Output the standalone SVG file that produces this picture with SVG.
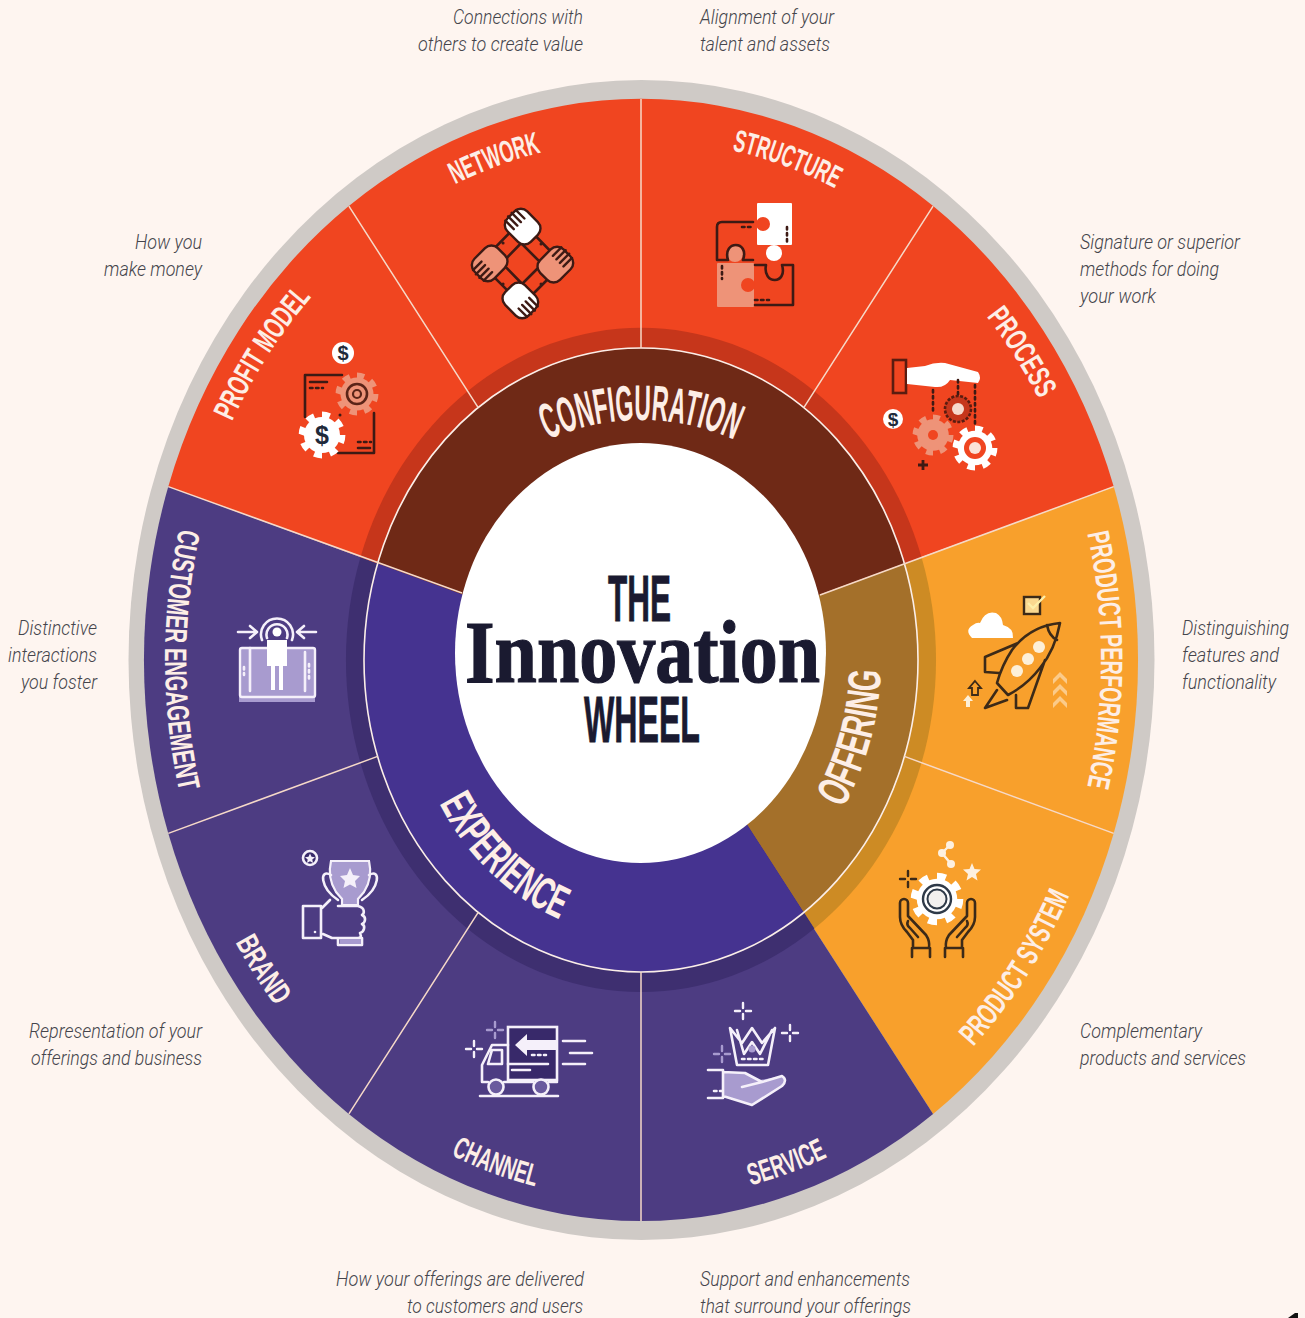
<svg xmlns="http://www.w3.org/2000/svg" width="1305" height="1318" viewBox="0 0 1305 1318">
<style>
.cap{font-family:"Roboto","Liberation Sans",sans-serif;font-style:italic;font-weight:300;font-size:20px;fill:#45454c}
.seg{font-family:"Liberation Sans",sans-serif;font-weight:700;font-size:31px;fill:#fdeee6;text-anchor:middle}
.ring{font-family:"Liberation Sans",sans-serif;font-weight:700;font-size:50px;fill:#fdeee6;text-anchor:middle}
.ttl{font-family:"Liberation Sans",sans-serif;font-weight:700;font-size:65px;fill:#1a1a30;stroke:#1a1a30;stroke-width:.8}
.inn{font-family:"Liberation Serif",serif;font-weight:700;font-size:88px;fill:#1a1a30;stroke:#1a1a30;stroke-width:1.2}
.spoke{stroke:#f6d9c8;stroke-width:1.5;fill:none}
.dk{fill:none;stroke:#3d1a14;stroke-width:2.6;stroke-linecap:round;stroke-linejoin:round}
.or{fill:none;stroke:#3c2a18;stroke-width:2.6;stroke-linecap:round;stroke-linejoin:round}
.wh{fill:none;stroke:#f5f0fa;stroke-width:2.6;stroke-linecap:round;stroke-linejoin:round}
.dot{fill:none;stroke-dasharray:2.5 3.5;stroke-width:2.6}
.dollar{font-family:"Liberation Sans",sans-serif;font-weight:700;text-anchor:middle;fill:#1f2a3a}
</style>
<defs>
<path id="pe1" d="M203.500 499.300A460 520 0 0 1 370.600 239.300"/>
<path id="pe2" d="M370.600 239.300A460 520 0 0 1 641 140"/>
<path id="pe3" d="M641 140A460 520 0 0 1 911.400 239.300"/>
<path id="pe4" d="M911.400 239.300A460 520 0 0 1 1078.500 499.300"/>
<path id="pe5" d="M1078.500 499.300A460 520 0 0 1 1078.500 820.700"/>
<path id="pi1" d="M188.300 493.100A476 540 0 0 0 188.300 826.900"/>
<path id="pi2" d="M188.300 826.900A476 540 0 0 0 361.200 1096.900"/>
<path id="pi3" d="M361.200 1096.900A476 540 0 0 0 641 1200"/>
<path id="pi4" d="M641 1200A476 540 0 0 0 920.800 1096.900"/>
<path id="pi5" d="M920.800 1096.900A476 540 0 0 0 1093.700 826.900"/>
<path id="pr1" d="M437.500 540A235 240 0 0 1 844.500 540"/>
<path id="pr2" d="M782 882.500A240 275 0 0 0 869.300 575"/>
<path id="pr3" d="M416.500 574.700A236 276 0 0 0 779.700 883.300"/>
<g id="gear"><circle r="15" fill="currentColor"/><circle r="16.5" fill="none" stroke="currentColor" stroke-width="6" pathLength="16" stroke-dasharray="1 1"/></g>
<path id="spark" d="M0 -8V-3M0 3V8M-8 0H-3M3 0H8" fill="none" stroke="currentColor" stroke-width="2.4" stroke-linecap="round"/>
<g id="hand"><rect x="-14" y="-17" width="28" height="33" rx="9" stroke="#3d1a14" stroke-width="2.4"/><path d="M-8 -17V-5M-3 -18V-5M2 -18V-5M7 -17V-5" fill="none" stroke="#3d1a14" stroke-width="2.4" stroke-linecap="round"/></g>
</defs>
<rect width="1305" height="1318" fill="#fef5f0"/>
<ellipse id="rim" cx="641.500" cy="660" rx="513" ry="580" fill="#cfcac6"/>

<g id="sectors">
<path d="M641 660L168.300 486.600A497 561 0 0 1 1113.700 486.600Z" fill="#f04520"/>
<path d="M641 660L1113.700 486.600A497 561 0 0 1 933.100 1113.900Z" fill="#f8a02c"/>
<path d="M641 660L933.100 1113.900A497 561 0 0 1 168.300 486.600Z" fill="#4d3c82"/>
</g>
<g id="bands">
<path d="M641 660L360.400 557.400A295 332 0 0 1 921.600 557.400Z" fill="#c6361b"/>
<path d="M641 660L921.600 557.400A295 332 0 0 1 814.400 928.600Z" fill="#cd8b24"/>
<path d="M641 660L814.400 928.600A295 332 0 0 1 360.400 557.400Z" fill="#3e2f70"/>
</g>
<g id="rings">
<path d="M641 660L377.600 563.600A277 312 0 0 1 904.400 563.600Z" fill="#6f2916"/>
<path d="M641 660L904.400 563.600A277 312 0 0 1 803.800 912.400Z" fill="#a4702a"/>
<path d="M641 660L803.800 912.400A277 312 0 0 1 377.600 563.600Z" fill="#453390"/>
<ellipse cx="641" cy="660" rx="277" ry="312" fill="none" stroke="#fbeee8" stroke-width="1.6"/>
</g>
<g id="connectors">
<path class="spoke" d="M641 99V348M933.100 206.100L803.800 407.600M1113.700 486.600L820 595M1113.700 833.400L904.400 756.400M641 1221V972M348.900 1113.900L478.200 912.400M168.300 833.400L377.600 756.400M168.300 486.600L462 593M348.900 206.100L478.200 407.600"/>
</g>
<ellipse id="hub" cx="640.500" cy="653" rx="185.500" ry="210" fill="#fff"/>

<g id="title">
<text class="ttl" x="608" y="621" textLength="63" lengthAdjust="spacingAndGlyphs">THE</text>
<text class="inn" x="465" y="682" textLength="355" lengthAdjust="spacingAndGlyphs">Innovation</text>
<text class="ttl" x="584" y="742" textLength="116" lengthAdjust="spacingAndGlyphs">WHEEL</text>
</g>
<g id="group-labels">
<text class="ring"><textPath href="#pr1" startOffset="50%" textLength="192" lengthAdjust="spacingAndGlyphs">CONFIGURATION</textPath></text>
<text class="ring" style="font-size:46px"><textPath href="#pr2" startOffset="50%" textLength="144" lengthAdjust="spacingAndGlyphs">OFFERING</textPath></text>
<text class="ring" style="font-size:46px"><textPath href="#pr3" startOffset="50%" textLength="170" lengthAdjust="spacingAndGlyphs">EXPERIENCE</textPath></text>
</g>

<g id="node-profit-model">
<text class="seg"><textPath href="#pe1" startOffset="50%" textLength="148" lengthAdjust="spacingAndGlyphs">PROFIT MODEL</textPath></text>
<circle cx="343" cy="353" r="11" fill="#fff"/><text class="dollar" x="343" y="360" font-size="20">$</text>
<path class="dk" d="M342 375H305V417M310 382H327M358 448H370M374 413V453H338"/>
<path class="dk dot" d="M310 388H323M358 442H371"/>
<use href="#gear" transform="translate(357 394) scale(1.1)" color="#ee9378"/>
<circle cx="357" cy="394" r="10" fill="none" stroke="#5a2418" stroke-width="2.6"/><circle cx="357" cy="394" r="4" fill="none" stroke="#5a2418" stroke-width="2.2"/>
<use href="#gear" transform="translate(322 435) scale(1.2)" color="#fff"/>
<text class="dollar" x="322" y="444" font-size="25">$</text>
<circle cx="340" cy="415" r="1.500" fill="#3d1a14"/>
</g>

<g id="node-network">
<text class="seg"><textPath href="#pe2" startOffset="50%" textLength="92" lengthAdjust="spacingAndGlyphs">NETWORK</textPath></text>
<path class="dk" d="M521 221L563 264L522 305L480 263ZM492 273L531 233M511 233L552 274M552 254L512 294M532 294L492 253"/>
<path d="M503 243h.1M541 244h.1M541 284h.1M503 284h.1" stroke="#3d1a14" stroke-width="3" stroke-linecap="round"/>
<use href="#hand" transform="translate(523 227) rotate(-45)" fill="#fff"/>
<use href="#hand" transform="translate(555 265) rotate(45)" fill="#ee9378"/>
<use href="#hand" transform="translate(520 300) rotate(135)" fill="#fff"/>
<use href="#hand" transform="translate(490 263) rotate(-135)" fill="#ee9378"/>
</g>

<g id="node-structure">
<text class="seg"><textPath href="#pe3" startOffset="50%" textLength="110" lengthAdjust="spacingAndGlyphs">STRUCTURE</textPath></text>
<rect x="757" y="203" width="35" height="42" rx="1" fill="#fff"/>
<circle cx="763" cy="224" r="7" fill="#f04520"/>
<path class="dk dot" d="M787 227V243"/>
<circle cx="774" cy="253" r="8" fill="#fff"/>
<rect x="717" y="263" width="37" height="44" rx="1" fill="#ee9378"/>
<circle cx="748" cy="285" r="7" fill="#f04520"/>
<circle cx="735" cy="254" r="8" fill="#ee9378"/>
<path class="dk" d="M753 222H722Q717 222 717 227V260H728C722 240 750 240 743 260H753M755 265H766C762 285 788 285 782 265H793V305H755"/>
<path class="dk dot" d="M742 227H753M722 266V279M755 300H769"/>
</g>

<g id="node-process">
<text class="seg"><textPath href="#pe4" startOffset="50%" textLength="98" lengthAdjust="spacingAndGlyphs">PROCESS</textPath></text>
<rect x="893" y="360" width="13" height="33" fill="none" stroke="#5a1c10" stroke-width="2.600"/>
<path d="M907 368L925 366Q935 362 945 363L978 372Q982 378 978 383L950 380Q945 388 935 387L907 384Z" fill="#fff"/>
<path class="dk dot" d="M933 390V412M958 380V395M975 385V425"/>
<circle cx="893" cy="419" r="10" fill="#fff"/><text class="dollar" x="893" y="426" font-size="19">$</text>
<use href="#gear" transform="translate(933 435) scale(1.050)" color="#ee9378"/>
<circle cx="933" cy="435" r="5" fill="#f04520"/>
<circle cx="958" cy="409" r="13" fill="#c6361b" stroke="#5a1c10" stroke-width="2.600" stroke-dasharray="3 1.500"/>
<circle cx="958" cy="409" r="6" fill="#f7d9cc"/>
<use href="#gear" transform="translate(975 448) scale(1.150)" color="#fff"/>
<circle cx="975" cy="448" r="11" fill="#f04520"/><circle cx="975" cy="448" r="6" fill="#fbe3d8"/>
<path d="M923 460V470M918 465H928" stroke="#3d1a14" stroke-width="2.800" fill="none"/>
</g>

<g id="node-product-performance">
<text class="seg"><textPath href="#pe5" startOffset="50%" textLength="255" lengthAdjust="spacingAndGlyphs">PRODUCT PERFORMANCE</textPath></text>
<rect x="1024" y="597" width="16" height="17" fill="#fad88f" stroke="#3c2a18" stroke-width="2.400"/>
<path d="M1028 603L1033 608L1045 596" fill="none" stroke="#fdeea8" stroke-width="2.400"/>
<path d="M972 638Q964 630 973 625Q977 622 980 623Q985 610 996 613Q1002 616 1003 625Q1014 628 1013 638Z" fill="#fff"/>
<path class="or" d="M1060 623Q1030 626 1012 650Q1002 665 997 683L1008 695Q1027 685 1040 668Q1055 650 1060 623ZM1047 625Q1049 636 1057 640M1018 643L985 657V672L999 673M1045 660L1028 708H1016V695M997 690L985 708L1007 700"/>
<circle cx="1039" cy="647" r="6" fill="#fdf0d8"/><circle cx="1028" cy="659" r="6" fill="#fdf0d8"/><circle cx="1017" cy="671" r="6" fill="#fdf0d8"/>
<path d="M975 681L981 688H978V695H972V688H969Z" fill="none" stroke="#3c2a18" stroke-width="1.800"/>
<path d="M968 695L973 701H970V707H966V701H963Z" fill="#fdf0d8"/>
<path d="M1053 679L1060 672L1067 679V684L1060 677L1053 684ZM1053 691L1060 684L1067 691V696L1060 689L1053 696ZM1053 703L1060 696L1067 703V708L1060 701L1053 708Z" fill="#fbcb8a"/>
</g>

<g id="node-product-system">
<text class="seg"><textPath href="#pi5" startOffset="50%" textLength="180" lengthAdjust="spacingAndGlyphs">PRODUCT SYSTEM</textPath></text>
<path d="M950 845L942 853L951 864" fill="none" stroke="#fdf0e0" stroke-width="2.400"/>
<circle cx="950" cy="845" r="4" fill="#fdf0e0"/><circle cx="942" cy="853" r="4" fill="#fdf0e0"/><circle cx="951" cy="864" r="4" fill="#fdf0e0"/>
<path d="M972 863L974.500 869L981 869.500L976 874L977.500 880.500L972 877L966.500 880.500L968 874L963 869.500L969.500 869Z" fill="#fdf0e0"/>
<use href="#spark" transform="translate(908 879)" color="#3c2a18"/>
<use href="#gear" transform="translate(937 899) scale(1.350)" color="#fff"/>
<circle cx="937" cy="899" r="14" fill="none" stroke="#2f3a48" stroke-width="2.400"/><circle cx="937" cy="899" r="9.500" fill="#f2f0ee" stroke="#2f3a48" stroke-width="2"/>
<path class="or" d="M900 917V903A4 4 0 0 1 908 903V916L926 935Q930 941 929 948M900 917Q900 925 907 932L913 940V948M908 921Q906 925 910 928L918 937M912 948H930M912 948V957M930 948V957"/>
<path class="or" d="M975 917V903A4 4 0 0 0 967 903V916L949 935Q945 941 946 948M975 917Q975 925 968 932L962 940V948M967 921Q969 925 965 928L957 937M963 948H945M963 948V957M945 948V957"/>
</g>

<g id="node-service">
<text class="seg"><textPath href="#pi4" startOffset="50%" textLength="82" lengthAdjust="spacingAndGlyphs">SERVICE</textPath></text>
<path class="wh" d="M730 1028L742 1043L752 1028L762 1043L775 1028L768 1065H737ZM737 1030L744 1054L752 1042L760 1054L772 1030"/>
<circle cx="752" cy="1049" r="3.500" fill="#a89bcf"/>
<path class="wh dot" d="M742 1059H764"/>
<use href="#spark" transform="translate(743 1011)" color="#f5f0fa"/>
<use href="#spark" transform="translate(790 1033)" color="#f5f0fa"/>
<use href="#spark" transform="translate(722 1054)" color="#a89bcf"/>
<path d="M723 1072L745 1073L760 1080L782 1076Q788 1080 782 1086L752 1105L723 1096Z" fill="#a89bcf"/>
<path class="wh" d="M708 1070H723V1098H708M723 1072L745 1073L762 1082L782 1076Q788 1080 782 1086L752 1105L723 1096M742 1087L762 1082"/>
<path class="wh dot" d="M714 1091H722"/>
</g>

<g id="node-channel">
<text class="seg"><textPath href="#pi3" startOffset="50%" textLength="90" lengthAdjust="spacingAndGlyphs">CHANNEL</textPath></text>
<rect x="508" y="1027" width="49" height="53" fill="#38296a" stroke="#f5f0fa" stroke-width="2.600"/>
<path d="M557 1040H527V1034L515 1045L527 1056V1050H557Z" fill="#f5f0fa"/>
<path class="wh dot" d="M532 1055H546"/>
<path class="wh" d="M508 1064H548M512 1070H530M508 1045H492L482 1065V1082H488M504 1082H533M549 1082H557M492 1050L488 1064H502V1050ZM480 1096H558M563 1041H585M570 1053H592M563 1064H585"/>
<circle cx="496" cy="1087" r="7.500" fill="#6a5a9e" stroke="#f5f0fa" stroke-width="2.600"/>
<circle cx="541" cy="1087" r="7.500" fill="#6a5a9e" stroke="#f5f0fa" stroke-width="2.600"/>
<use href="#spark" transform="translate(474 1049)" color="#f5f0fa"/>
<use href="#spark" transform="translate(495 1030)" color="#a89bcf"/>
</g>

<g id="node-brand">
<text class="seg"><textPath href="#pi2" startOffset="50%" textLength="76" lengthAdjust="spacingAndGlyphs">BRAND</textPath></text>
<circle cx="310" cy="858" r="7" fill="#38296a" stroke="#f5f0fa" stroke-width="2.600"/>
<path d="M310 853.500L311.500 856.800L315 857.200L312.300 859.500L313 863L310 861.200L307 863L307.700 859.500L305 857.200L308.500 856.800Z" fill="#f5f0fa"/>
<path d="M331 861H369Q373 878 364 892L358 899V905H342V899L336 892Q327 878 331 861Z" fill="#a89bcf" stroke="#f5f0fa" stroke-width="2.200"/>
<path d="M350 868L353 875L360 876L355 881L356.500 888L350 884.500L343.500 888L345 881L340 876L347 875Z" fill="#f5f0fa"/>
<path class="wh" d="M331 875C319 868 320 888 338 900M369 875C381 868 380 888 362 900M321 906H303V938H321V906M322 908L330 900M338 906H358C366 908 364 914 362 915C367 917 365 923 362 924C366 926 364 932 360 933C362 937 360 938 358 938H332L323 934M338 938V945H362V938"/>
<path d="M340 939H361V944H340Z" fill="#a89bcf"/>
<circle cx="315" cy="932" r="1.300" fill="#f5f0fa"/>
</g>

<g id="node-customer-engagement">
<text class="seg"><textPath href="#pi1" startOffset="50%" textLength="265" lengthAdjust="spacingAndGlyphs">CUSTOMER ENGAGEMENT</textPath></text>
<rect x="239" y="697" width="76" height="5" fill="#a89bcf"/>
<rect x="240" y="648" width="75" height="49" rx="2" fill="#a89bcf" stroke="#f5f0fa" stroke-width="2.400"/>
<path class="wh" d="M250 648V691M305 652V691"/>
<path d="M267 640H287V666H283V690H279V666H275V690H271V666H267Z" fill="#fff"/>
<path class="wh dot" d="M244 667V675M309 664V680"/>
<circle cx="277" cy="632" r="4.500" fill="#fff"/>
<path class="wh" d="M267 638A10.500 10.500 0 1 1 287 638M262 640A16 16 0 1 1 292 640M238 632H256M250 626L257 632L250 638M316 632H298M304 626L297 632L304 638"/>
</g>

<g id="captions">
<text class="cap" x="453" y="24" textLength="130" lengthAdjust="spacingAndGlyphs">Connections with</text>
<text class="cap" x="418" y="51" textLength="165" lengthAdjust="spacingAndGlyphs">others to create value</text>
<text class="cap" x="700" y="24" textLength="134" lengthAdjust="spacingAndGlyphs">Alignment of your</text>
<text class="cap" x="700" y="51" textLength="130" lengthAdjust="spacingAndGlyphs">talent and assets</text>
<text class="cap" x="135" y="249" textLength="67" lengthAdjust="spacingAndGlyphs">How you</text>
<text class="cap" x="104" y="276" textLength="98" lengthAdjust="spacingAndGlyphs">make money</text>
<text class="cap" x="1080" y="249" textLength="160" lengthAdjust="spacingAndGlyphs">Signature or superior</text>
<text class="cap" x="1080" y="276" textLength="139" lengthAdjust="spacingAndGlyphs">methods for doing</text>
<text class="cap" x="1080" y="303" textLength="76" lengthAdjust="spacingAndGlyphs">your work</text>
<text class="cap" x="18" y="635" textLength="79" lengthAdjust="spacingAndGlyphs">Distinctive</text>
<text class="cap" x="8" y="662" textLength="89" lengthAdjust="spacingAndGlyphs">interactions</text>
<text class="cap" x="21" y="689" textLength="76" lengthAdjust="spacingAndGlyphs">you foster</text>
<text class="cap" x="1182" y="635" textLength="107" lengthAdjust="spacingAndGlyphs">Distinguishing</text>
<text class="cap" x="1182" y="662" textLength="97" lengthAdjust="spacingAndGlyphs">features and</text>
<text class="cap" x="1182" y="689" textLength="94" lengthAdjust="spacingAndGlyphs">functionality</text>
<text class="cap" x="29" y="1038" textLength="173" lengthAdjust="spacingAndGlyphs">Representation of your</text>
<text class="cap" x="31" y="1065" textLength="171" lengthAdjust="spacingAndGlyphs">offerings and business</text>
<text class="cap" x="1080" y="1038" textLength="122" lengthAdjust="spacingAndGlyphs">Complementary</text>
<text class="cap" x="1080" y="1065" textLength="166" lengthAdjust="spacingAndGlyphs">products and services</text>
<text class="cap" x="336" y="1286" textLength="248" lengthAdjust="spacingAndGlyphs">How your offerings are delivered</text>
<text class="cap" x="407" y="1313" textLength="176" lengthAdjust="spacingAndGlyphs">to customers and users</text>
<text class="cap" x="700" y="1286" textLength="210" lengthAdjust="spacingAndGlyphs">Support and enhancements</text>
<text class="cap" x="700" y="1313" textLength="211" lengthAdjust="spacingAndGlyphs">that surround your offerings</text>
</g>
<path id="corner-mark" d="M1288 1318L1295 1313H1298V1318Z" fill="#111"/>
</svg>
